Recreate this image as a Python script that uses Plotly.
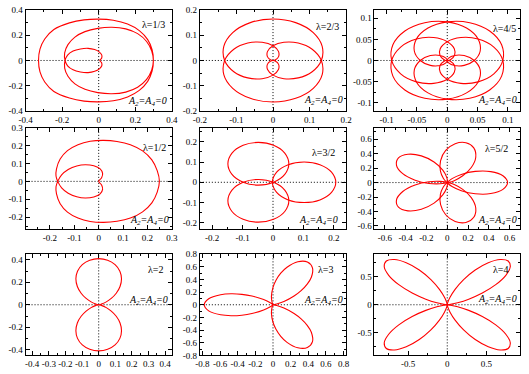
import plotly.graph_objects as go

# ---- curve data (x, y), loops separated by None ----
# lambda = 1/3
p1_x = [0.299, 0.292, 0.268, 0.222, 0.158, 0.08, 0.0, -0.08, -0.16, -0.245, -0.295, -0.321, -0.329,
        -0.321, -0.295, -0.245, -0.16, -0.08, 0.0, 0.08, 0.158, 0.222, 0.268, 0.292, 0.299,
        0.29, 0.262, 0.213, 0.148, 0.072, -0.005, -0.075, -0.13, -0.168, -0.186, -0.184,
        -0.17, -0.14, -0.1, -0.058, -0.022, 0.004, 0.017, 0.016, 0.006, 0.016, 0.017, 0.004,
        -0.022, -0.058, -0.1, -0.14, -0.17, -0.184, -0.186, -0.168, -0.13, -0.075, -0.005,
        0.072, 0.148, 0.213, 0.262, 0.29, 0.299]
p1_y = [0.0, 0.085, 0.165, 0.236, 0.288, 0.318, 0.327, 0.321, 0.297, 0.245, 0.17, 0.09, 0.0,
        -0.09, -0.17, -0.245, -0.297, -0.321, -0.327, -0.318, -0.288, -0.236, -0.165, -0.085, 0.0,
        0.075, 0.15, 0.212, 0.25, 0.263, 0.254, 0.228, 0.185, 0.125, 0.06, 0.0,
        -0.042, -0.074, -0.091, -0.096, -0.086, -0.066, -0.042, -0.018, 0.0, 0.018, 0.042, 0.066,
        0.086, 0.096, 0.091, 0.074, 0.042, 0.0, -0.06, -0.125, -0.185, -0.228, -0.254,
        -0.263, -0.25, -0.212, -0.15, -0.075, 0.0]

# lambda = 2/3
p2_x = [0, 0.0071, 0.0153, 0.0149, 0, -0.0298, -0.0689, -0.1071, -0.1322, -0.1345, -0.1101, -0.062, 0,
        0.062, 0.1101, 0.1345, 0.1322, 0.1071, 0.0689, 0.0298, 0, -0.0149, -0.0153, -0.0071, 0, None,
        0, -0.0071, -0.0153, -0.0149, 0, 0.0298, 0.0689, 0.1071, 0.1322, 0.1345, 0.1101, 0.062, 0,
        -0.062, -0.1101, -0.1345, -0.1322, -0.1071, -0.0689, -0.0298, 0, 0.0149, 0.0153, 0.0071, 0]
p2_y = [0, 0.0029, 0.0153, 0.0359, 0.058, 0.072, 0.0689, 0.0444, 0, -0.0557, -0.1101, -0.1496, -0.164,
        -0.1496, -0.1101, -0.0557, 0, 0.0444, 0.0689, 0.072, 0.058, 0.0359, 0.0153, 0.0029, 0, None,
        0, -0.0029, -0.0153, -0.0359, -0.058, -0.072, -0.0689, -0.0444, 0, 0.0557, 0.1101, 0.1496, 0.164,
        0.1496, 0.1101, 0.0557, 0, -0.0444, -0.0689, -0.072, -0.058, -0.0359, -0.0153, -0.0029, 0]

# lambda = 4/5
p3_x = [0, 0.0057, 0.012, 0.0116, 0, -0.0225, -0.0508, -0.0768, -0.0916, -0.0896, -0.0699, -0.0371, 0,
        0.0318, 0.0508, 0.0543, 0.0445, 0.0279, 0.012, 0.0023, 0, None,
        0, -0.0023, -0.012, -0.0279, -0.0445, -0.0543, -0.0508, -0.0318, 0, 0.0371, 0.0699, 0.0896, 0.0916,
        0.0768, 0.0508, 0.0225, 0, -0.0116, -0.012, -0.0057, 0, None,
        0, -0.0057, -0.012, -0.0116, 0, 0.0225, 0.0508, 0.0768, 0.0916, 0.0896, 0.0699, 0.0371, 0,
        -0.0318, -0.0508, -0.0543, -0.0445, -0.0279, -0.012, -0.0023, 0, None,
        0, 0.0023, 0.012, 0.0279, 0.0445, 0.0543, 0.0508, 0.0318, 0, -0.0371, -0.0699, -0.0896, -0.0916,
        -0.0768, -0.0508, -0.0225, 0, 0.0116, 0.012, 0.0057, 0]
p3_y = [0, 0.0023, 0.012, 0.0279, 0.0445, 0.0543, 0.0508, 0.0318, 0, -0.0371, -0.0699, -0.0896, -0.0916,
        -0.0768, -0.0508, -0.0225, 0, 0.0116, 0.012, 0.0057, 0, None,
        0, 0.0057, 0.012, 0.0116, 0, -0.0225, -0.0508, -0.0768, -0.0916, -0.0896, -0.0699, -0.0371, 0,
        0.0318, 0.0508, 0.0543, 0.0445, 0.0279, 0.012, 0.0023, 0, None,
        0, -0.0023, -0.012, -0.0279, -0.0445, -0.0543, -0.0508, -0.0318, 0, 0.0371, 0.0699, 0.0896, 0.0916,
        0.0768, 0.0508, 0.0225, 0, -0.0116, -0.012, -0.0057, 0, None,
        0, -0.0057, -0.012, -0.0116, 0, 0.0225, 0.0508, 0.0768, 0.0916, 0.0896, 0.0699, 0.0371, 0,
        -0.0318, -0.0508, -0.0543, -0.0445, -0.0279, -0.012, -0.0023, 0]

# lambda = 1/2
p4_x = [0, 0.012, 0.016, 0.006, -0.02, -0.055, -0.09, -0.125, -0.152, -0.168, -0.175, -0.173, -0.158,
        -0.128, -0.085, -0.035, 0.02, 0.075, 0.13, 0.18, 0.218, 0.24, 0.249, 0.24, 0.218, 0.18, 0.13,
        0.075, 0.02, -0.035, -0.085, -0.128, -0.158, -0.173, -0.175, -0.168, -0.152, -0.125, -0.09,
        -0.055, -0.02, 0.006, 0.016, 0.012, 0]
p4_y = [0, 0.02, 0.045, 0.07, 0.087, 0.093, 0.086, 0.066, 0.036, 0.0, -0.03, -0.07, -0.125,
        -0.172, -0.205, -0.224, -0.229, -0.223, -0.205, -0.17, -0.12, -0.06, 0.0, 0.06, 0.12, 0.17, 0.205,
        0.223, 0.229, 0.224, 0.205, 0.172, 0.125, 0.07, 0.03, 0.0, -0.036, -0.066, -0.086,
        -0.093, -0.087, -0.07, -0.045, -0.02, 0]

# lambda = 3/2
p5_x = [-0.002, 0.012, 0.05, 0.102, 0.154, 0.192, 0.206, 0.192, 0.154, 0.102, 0.05, 0.012, -0.002, None,
        0.002, 0.0386, 0.052, 0.0386, 0.002, -0.048, -0.098, -0.1346, -0.148, -0.1346, -0.098, -0.048, 0.002, None,
        0.002, 0.0386, 0.052, 0.0386, 0.002, -0.048, -0.098, -0.1346, -0.148, -0.1346, -0.098, -0.048, 0.002]
p5_y = [0, -0.05, -0.087, -0.1, -0.087, -0.05, 0, 0.05, 0.087, 0.1, 0.087, 0.05, 0, None,
        0.0001, 0.0388, 0.0915, 0.1443, 0.1829, 0.197, 0.1829, 0.1443, 0.0915, 0.0388, 0.0001, -0.014, 0.0001, None,
        -0.0001, -0.0388, -0.0915, -0.1443, -0.1829, -0.197, -0.1829, -0.1443, -0.0915, -0.0388, -0.0001, 0.014, -0.0001]

# lambda = 5/2
p6_x = [0, 0.0075, 0.046, 0.135, 0.269, 0.418, 0.535, 0.58, 0.535, 0.418, 0.269, 0.135, 0.046, 0.0075, 0, None,
        0, 0.015, 0.067, 0.149, 0.231, 0.274, 0.255, 0.179, 0.076, -0.015, -0.064, -0.066, -0.038, -0.010, 0, None,
        0, 0.002, -0.005, -0.043, -0.127, -0.249, -0.378, -0.469, -0.488, -0.428, -0.309, -0.176, -0.070, -0.014, 0, None,
        0, -0.014, -0.070, -0.176, -0.309, -0.428, -0.488, -0.469, -0.378, -0.249, -0.127, -0.043, -0.005, 0.002, 0, None,
        0, -0.010, -0.038, -0.066, -0.064, -0.015, 0.076, 0.179, 0.255, 0.274, 0.231, 0.149, 0.067, 0.015, 0]
p6_y = [0, -0.013, -0.055, -0.113, -0.155, -0.152, -0.094, 0, 0.094, 0.152, 0.155, 0.113, 0.055, 0.013, 0, None,
        0, 0.003, 0.027, 0.094, 0.208, 0.351, 0.480, 0.552, 0.538, 0.445, 0.304, 0.163, 0.061, 0.011, 0, None,
        0, 0.015, 0.072, 0.171, 0.284, 0.369, 0.391, 0.341, 0.239, 0.123, 0.033, -0.012, -0.017, -0.006, 0, None,
        0, 0.006, 0.017, 0.012, -0.033, -0.123, -0.239, -0.341, -0.391, -0.369, -0.284, -0.171, -0.072, -0.015, 0, None,
        0, -0.011, -0.061, -0.163, -0.304, -0.445, -0.538, -0.552, -0.480, -0.351, -0.208, -0.094, -0.027, -0.003, 0]

# lambda = 2
p7_x = [0, 0.0159, 0.0457, 0.0756, 0.1056, 0.1284, 0.1372, 0.1274, 0.0985, 0.0537, 0, -0.0537, -0.0985,
        -0.1274, -0.1372, -0.1284, -0.1056, -0.0756, -0.0457, -0.0159, 0, None,
        0, 0.0159, 0.0457, 0.0756, 0.1056, 0.1284, 0.1372, 0.1274, 0.0985, 0.0537, 0, -0.0537, -0.0985,
        -0.1274, -0.1372, -0.1284, -0.1056, -0.0756, -0.0457, -0.0159, 0]
p7_y = [0, 0.0056, 0.0256, 0.0563, 0.1025, 0.1625, 0.2306, 0.2987, 0.357, 0.3961, 0.41, 0.3961, 0.357,
        0.2987, 0.2306, 0.1625, 0.1025, 0.0563, 0.0256, 0.0056, 0, None,
        0, -0.0056, -0.0256, -0.0563, -0.1025, -0.1625, -0.2306, -0.2987, -0.357, -0.3961, -0.41, -0.3961, -0.357,
        -0.2987, -0.2306, -0.1625, -0.1025, -0.0563, -0.0256, -0.0056, 0]

# lambda = 3
p8_x = [0, -0.0035, -0.0309, -0.1061, -0.2389, -0.353, -0.476, -0.594, -0.7297, -0.78, -0.7297, -0.594,
        -0.476, -0.353, -0.2389, -0.1061, -0.0309, -0.0035, 0, None,
        0, -0.002, -0.011, -0.018, 0.0, 0.034, 0.088, 0.159, 0.282, 0.39, 0.448, 0.435, 0.388, 0.319,
        0.239, 0.124, 0.042, 0.006, 0, None,
        0, -0.002, -0.011, -0.018, 0.0, 0.034, 0.088, 0.159, 0.282, 0.39, 0.448, 0.435, 0.388, 0.319,
        0.239, 0.124, 0.042, 0.006, 0]
p8_y = [0, -0.0046, -0.0309, -0.0815, -0.1379, -0.1646, -0.173, -0.159, -0.0961, 0, 0.0961, 0.159,
        0.173, 0.1646, 0.1379, 0.0815, 0.0309, 0.0046, 0, None,
        0, 0.005, 0.042, 0.133, 0.276, 0.388, 0.499, 0.594, 0.68, 0.6755, 0.584, 0.435, 0.326, 0.223,
        0.138, 0.051, 0.011, 0.001, 0, None,
        0, -0.005, -0.042, -0.133, -0.276, -0.388, -0.499, -0.594, -0.68, -0.6755, -0.584, -0.435, -0.326, -0.223,
        -0.138, -0.051, -0.011, -0.001, 0]

# lambda = 4
p9_x = [0, 0.0433, 0.1328, 0.274, 0.448, 0.619, 0.748, 0.805, 0.778, 0.675, 0.524, 0.357, 0.209, 0.1, 0.0356, 0.0076, 0, None,
        0, -0.0433, -0.1328, -0.274, -0.448, -0.619, -0.748, -0.805, -0.778, -0.675, -0.524, -0.357, -0.209, -0.1, -0.0356, -0.0076, 0, None,
        0, 0.0433, 0.1328, 0.274, 0.448, 0.619, 0.748, 0.805, 0.778, 0.675, 0.524, 0.357, 0.209, 0.1, 0.0356, 0.0076, 0, None,
        0, -0.0433, -0.1328, -0.274, -0.448, -0.619, -0.748, -0.805, -0.778, -0.675, -0.524, -0.357, -0.209, -0.1, -0.0356, -0.0076, 0]
p9_y = [0, 0.0076, 0.0356, 0.1, 0.209, 0.357, 0.524, 0.675, 0.778, 0.805, 0.748, 0.619, 0.448, 0.274, 0.1328, 0.0433, 0, None,
        0, 0.0076, 0.0356, 0.1, 0.209, 0.357, 0.524, 0.675, 0.778, 0.805, 0.748, 0.619, 0.448, 0.274, 0.1328, 0.0433, 0, None,
        0, -0.0076, -0.0356, -0.1, -0.209, -0.357, -0.524, -0.675, -0.778, -0.805, -0.748, -0.619, -0.448, -0.274, -0.1328, -0.0433, 0, None,
        0, -0.0076, -0.0356, -0.1, -0.209, -0.357, -0.524, -0.675, -0.778, -0.805, -0.748, -0.619, -0.448, -0.274, -0.1328, -0.0433, 0]

lam_labels = ["λ=1/3", "λ=2/3", "λ=4/5", "λ=1/2", "λ=3/2", "λ=5/2", "λ=2", "λ=3", "λ=4"]
amp_label = "<i>A<sub>2</sub>=A<sub>4</sub>=0</i>"

x_ranges = [[-0.4, 0.4], [-0.2, 0.2], [-0.12, 0.12], [-0.3, 0.3], [-0.24, 0.24], [-0.7, 0.7],
            [-0.44, 0.44], [-0.83, 0.83], [-0.93, 0.93]]
y_ranges = [[-0.4, 0.4], [-0.2, 0.2], [-0.12, 0.12], [-0.265, 0.3], [-0.23, 0.27], [-0.64, 0.76],
            [-0.45, 0.45], [-0.8, 0.8], [-0.9, 0.9]]
x_ticks = [[-0.4, -0.2, 0, 0.2, 0.4], [-0.2, -0.1, 0, 0.1, 0.2], [-0.1, -0.05, 0, 0.05, 0.1],
           [-0.2, -0.1, 0, 0.1, 0.2, 0.3], [-0.2, -0.1, 0, 0.1, 0.2], [-0.6, -0.4, -0.2, 0, 0.2, 0.4, 0.6],
           [-0.4, -0.3, -0.2, -0.1, 0, 0.1, 0.2, 0.3, 0.4], [-0.8, -0.6, -0.4, -0.2, 0, 0.2, 0.4, 0.6, 0.8],
           [-0.5, 0, 0.5]]
y_ticks = [[-0.4, -0.2, 0, 0.2, 0.4], [-0.2, -0.1, 0, 0.1, 0.2], [-0.1, -0.05, 0, 0.05, 0.1],
           [-0.2, -0.1, 0, 0.1, 0.2, 0.3], [-0.2, -0.1, 0, 0.1, 0.2], [-0.6, -0.4, -0.2, 0, 0.2, 0.4, 0.6],
           [-0.4, -0.2, 0, 0.2, 0.4], [-0.8, -0.6, -0.4, -0.2, 0, 0.2, 0.4, 0.6, 0.8], [-0.5, 0, 0.5]]

curves = [(p1_x, p1_y), (p2_x, p2_y), (p3_x, p3_y), (p4_x, p4_y), (p5_x, p5_y),
          (p6_x, p6_y), (p7_x, p7_y), (p8_x, p8_y), (p9_x, p9_y)]

# ---- layout (pixels of a 529x374 page) ----
W, H = 529, 374
col_px = [(19, 169), (197.7, 347.7), (376.7, 526)]
row_px = [(5, 109), (126, 230), (256, 360)]
x_minor = [0.1, 0.05, 0.025, 0.05, 0.05, 0.1, 0.05, 0.1, 0.25]
y_minor = [0.1, 0.05, 0.025, 0.05, 0.05, 0.1, 0.1, 0.1, 0.25]
lam_pos = [(0.967, 0.856), (0.962, 0.837), (0.987, 0.817), (0.973, 0.808), (0.937, 0.757),
           (0.933, 0.798), (0.958, 0.853), (0.931, 0.846), (0.938, 0.853)]
amp_pos = [(0.978, 0.093), (0.99, 0.103), (0.993, 0.103), (0.995, 0.084), (0.96, 0.084),
           (0.99, 0.084), (0.985, 0.545), (0.993, 0.545), (0.992, 0.555)]

font = "Liberation Serif, Times New Roman, serif"
fig = go.Figure()

for i, (cx, cy) in enumerate(curves):
    s = "" if i == 0 else str(i + 1)
    c0, c1 = col_px[i % 3]
    r0, r1 = row_px[i // 3]
    fig.add_trace(go.Scatter(
        x=cx, y=cy, mode="lines", xaxis="x" + s, yaxis="y" + s,
        line=dict(color="#ff0000", width=1.1, shape="spline", smoothing=1.0),
        showlegend=False, hoverinfo="skip"))
    common = dict(showgrid=False, zeroline=False, showline=True, linecolor="black", linewidth=1,
                  mirror="allticks", ticks="inside", ticklen=4, tickwidth=1, tickcolor="black",
                  tickangle=0, tickfont=dict(family=font, size=9, color="black"), fixedrange=True)
    fig.update_layout(**{
        "xaxis" + s: dict(common, domain=[c0 / W, c1 / W], range=x_ranges[i], anchor="y" + s,
                          tickmode="array", tickvals=x_ticks[i], ticktext=[f"{v:g}" for v in x_ticks[i]],
                          minor=dict(ticks="inside", ticklen=2, dtick=x_minor[i], tick0=0,
                                     tickcolor="black", showgrid=False)),
        "yaxis" + s: dict(common, domain=[1 - r1 / H, 1 - r0 / H], range=y_ranges[i], anchor="x" + s,
                          tickmode="array", tickvals=y_ticks[i], ticktext=[f"{v:g}" for v in y_ticks[i]],
                          minor=dict(ticks="inside", ticklen=2, dtick=y_minor[i], tick0=0,
                                     tickcolor="black", showgrid=False)),
    })
    dot = dict(color="black", width=1, dash="1px,2px")
    fig.add_shape(type="line", xref=f"x{s} domain", x0=0, x1=1, yref="y" + s, y0=0, y1=0,
                  line=dot, layer="below")
    fig.add_shape(type="line", xref="x" + s, x0=0, x1=0, yref=f"y{s} domain", y0=0, y1=1,
                  line=dot, layer="below")
    fig.add_annotation(text=lam_labels[i], xref=f"x{s} domain", yref=f"y{s} domain",
                       x=lam_pos[i][0], y=lam_pos[i][1], xanchor="right", yanchor="middle",
                       showarrow=False, font=dict(family=font, size=10, color="black"))
    fig.add_annotation(text=amp_label, xref=f"x{s} domain", yref=f"y{s} domain",
                       x=amp_pos[i][0], y=amp_pos[i][1], xanchor="right", yanchor="middle",
                       showarrow=False, font=dict(family=font, size=10, color="black"))

fig.update_layout(width=W, height=H, margin=dict(l=0, r=0, t=0, b=0),
                  paper_bgcolor="white", plot_bgcolor="white", hovermode=False)
# the page body has a default 8px margin; remove it so the figure sits at the window corner
fig.write_html("out.html", config={"displayModeBar": False},
               post_script="document.body.style.margin='0px';")
